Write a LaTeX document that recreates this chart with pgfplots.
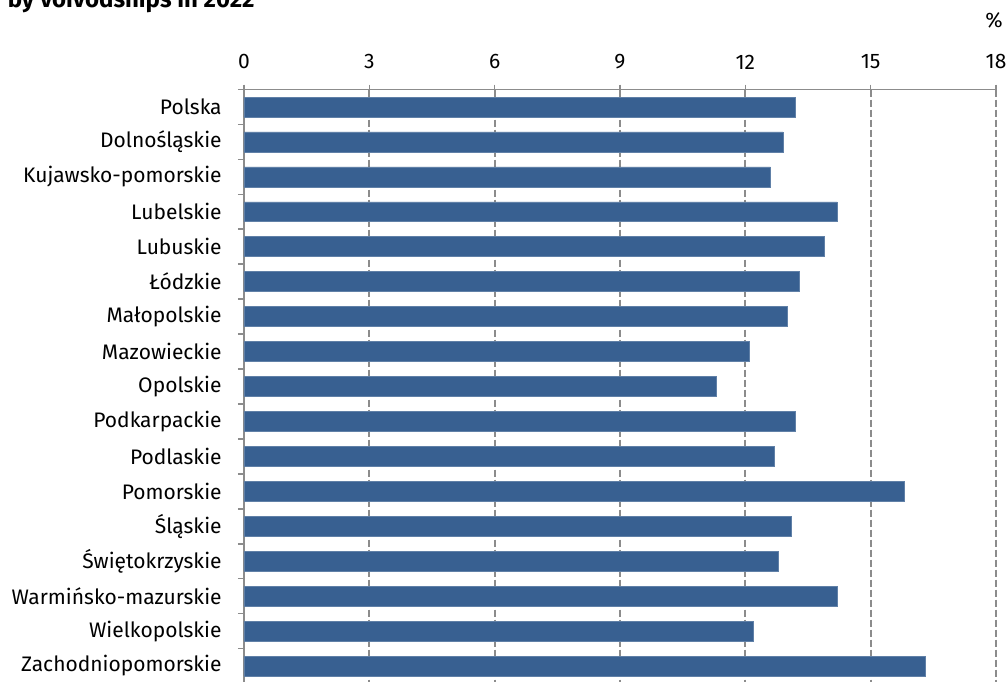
\documentclass[border=0pt]{standalone}
\usepackage{fontspec}
\setmainfont{Fira Sans}
\usepackage{pgfplots}
\pgfplotsset{compat=1.18}
\definecolor{barblue}{RGB}{56,96,145}
\definecolor{axisgray}{RGB}{140,140,140}
\begin{document}
\fontsize{10.5}{12}\selectfont
\begin{tikzpicture}
\path[use as bounding box] (0,0) rectangle (504pt,340.5pt);
\node[anchor=base east, font=\fontsize{12}{14}\selectfont\bfseries, inner sep=0pt] at (127.5pt,336.8pt) {by voivodships in 2022};
\node[inner sep=0pt] at (497pt,330.5pt) {\%};
\begin{axis}[
  scale only axis,
  width=376pt, height=297pt,
  at={(122pt,-1.25pt)}, anchor=south west,
  xmin=0, xmax=18,
  ymin=-0.5, ymax=16.5,
  y dir=reverse,
  axis x line*=top,
  axis y line*=left,
  axis line style={axisgray, line width=0.8pt},
  xtick={0,3,...,18},
  xticklabel pos=upper,
  xmajorgrids,
  grid style={axisgray, line width=1pt, dash pattern=on 3.5pt off 1.5pt},
  x tick style={axisgray, line width=0.8pt},
  major tick length=2.5pt,
  tick align=outside,
  xticklabel style={yshift=4pt},
  /pgf/number format/assume math mode=true,
  ytick={0,...,16},
  yticklabels={Polska,Dolnośląskie,Kujawsko-pomorskie,Lubelskie,Lubuskie,Łódzkie,Małopolskie,Mazowieckie,Opolskie,Podkarpackie,Podlaskie,Pomorskie,Śląskie,Świętokrzyskie,Warmińsko-mazurskie,Wielkopolskie,Zachodniopomorskie},
  y tick style={draw=none},
  minor ytick={-0.5,0.5,...,16.5},
  minor y tick style={draw=axisgray, line width=0.8pt},
  minor tick length=3pt,
  yticklabel style={xshift=-5pt},
  xbar, bar width=0.57,
  clip=false,
]
\addplot[fill=barblue, draw=barblue!80!white, line width=0.3pt] table[x=v, y=i] {
i v
0 13.2
1 12.9
2 12.6
3 14.2
4 13.9
5 13.3
6 13.0
7 12.1
8 11.3
9 13.2
10 12.7
11 15.8
12 13.1
13 12.8
14 14.2
15 12.2
16 16.3
};
\end{axis}
\end{tikzpicture}
\end{document}
